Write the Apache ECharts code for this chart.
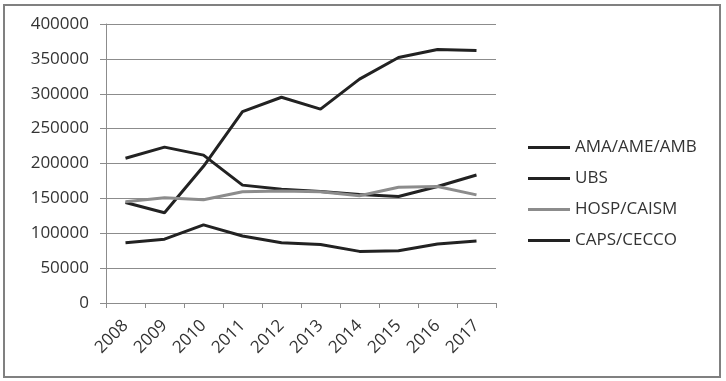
<!DOCTYPE html>
<html>
<head>
<meta charset="utf-8">
<script src="https://cdn.jsdelivr.net/npm/echarts@6/dist/echarts.min.js"></script>
<style>
html,body{margin:0;padding:0;background:#fff;}
#chart{width:726px;height:381px;}
</style>
</head>
<body>
<div id="chart"></div>
<script>
var years = ['2008','2009','2010','2011','2012','2013','2014','2015','2016','2017'];
var seriesNames = ['AMA/AME/AMB','UBS','HOSP/CAISM','CAPS/CECCO'];
var amaValues  = [207500, 223500, 212000, 169000, 163000, 160000, 155500, 152700, 167000, 183500];
var ubsValues  = [144000, 129500, 196000, 274500, 295000, 278000, 321000, 352000, 363500, 362000];
var hospValues = [145000, 151000, 148000, 159500, 160500, 159500, 153700, 166000, 167000, 155000];
var capsValues = [86500, 91500, 112000, 96000, 86500, 84000, 74000, 75000, 84500, 88800];
var yTicks = [0, 50000, 100000, 150000, 200000, 250000, 300000, 350000, 400000];

var FONT = '"Open Sans", sans-serif';
var dark = '#222222';
var gray = '#8c8c8c';
var valuesList = [amaValues, ubsValues, hospValues, capsValues];
var colors = [dark, dark, gray, dark];

var chart = echarts.init(document.getElementById('chart'), null, {renderer: 'canvas'});
chart.setOption({
  animation: false,
  backgroundColor: '#ffffff',
  graphic: [{
    type: 'rect',
    shape: {x: 4, y: 5, width: 716, height: 372},
    style: {fill: 'none', stroke: '#808080', lineWidth: 2},
    silent: true
  }],
  grid: {left: 106, right: 230, top: 24, bottom: 78, outerBoundsMode: 'none'},
  legend: {
    orient: 'vertical',
    left: 523,
    top: 134,
    icon: 'rect',
    itemWidth: 42,
    itemHeight: 3,
    itemGap: 14,
    textStyle: {fontFamily: FONT, fontSize: 17, color: '#333', lineHeight: 17},
    data: seriesNames
  },
  xAxis: {
    type: 'category',
    data: years,
    boundaryGap: true,
    axisLine: {lineStyle: {color: '#8c8c8c', width: 1}},
    axisTick: {show: true, length: 5, lineStyle: {color: '#8c8c8c'}},
    axisLabel: {rotate: 45, fontFamily: FONT, fontSize: 17, color: '#333', margin: 20, interval: 0}
  },
  yAxis: {
    type: 'value',
    min: 0,
    max: 400000,
    interval: 50000,
    axisLine: {show: true, lineStyle: {color: '#8c8c8c', width: 1}},
    axisTick: {show: true, length: 6, lineStyle: {color: '#8c8c8c'}},
    splitLine: {show: true, lineStyle: {color: '#8c8c8c', width: 1}},
    axisLabel: {fontFamily: FONT, fontSize: 17, color: '#333', margin: 17,
      formatter: function (v) { return yTicks.indexOf(v) >= 0 ? String(v) : ''; }}
  },
  series: seriesNames.map(function (name, i) {
    return {
      name: name,
      type: 'line',
      data: valuesList[i],
      showSymbol: false,
      symbol: 'none',
      color: colors[i],
      lineStyle: {color: colors[i], width: 3}
    };
  })
});
</script>
</body>
</html>
